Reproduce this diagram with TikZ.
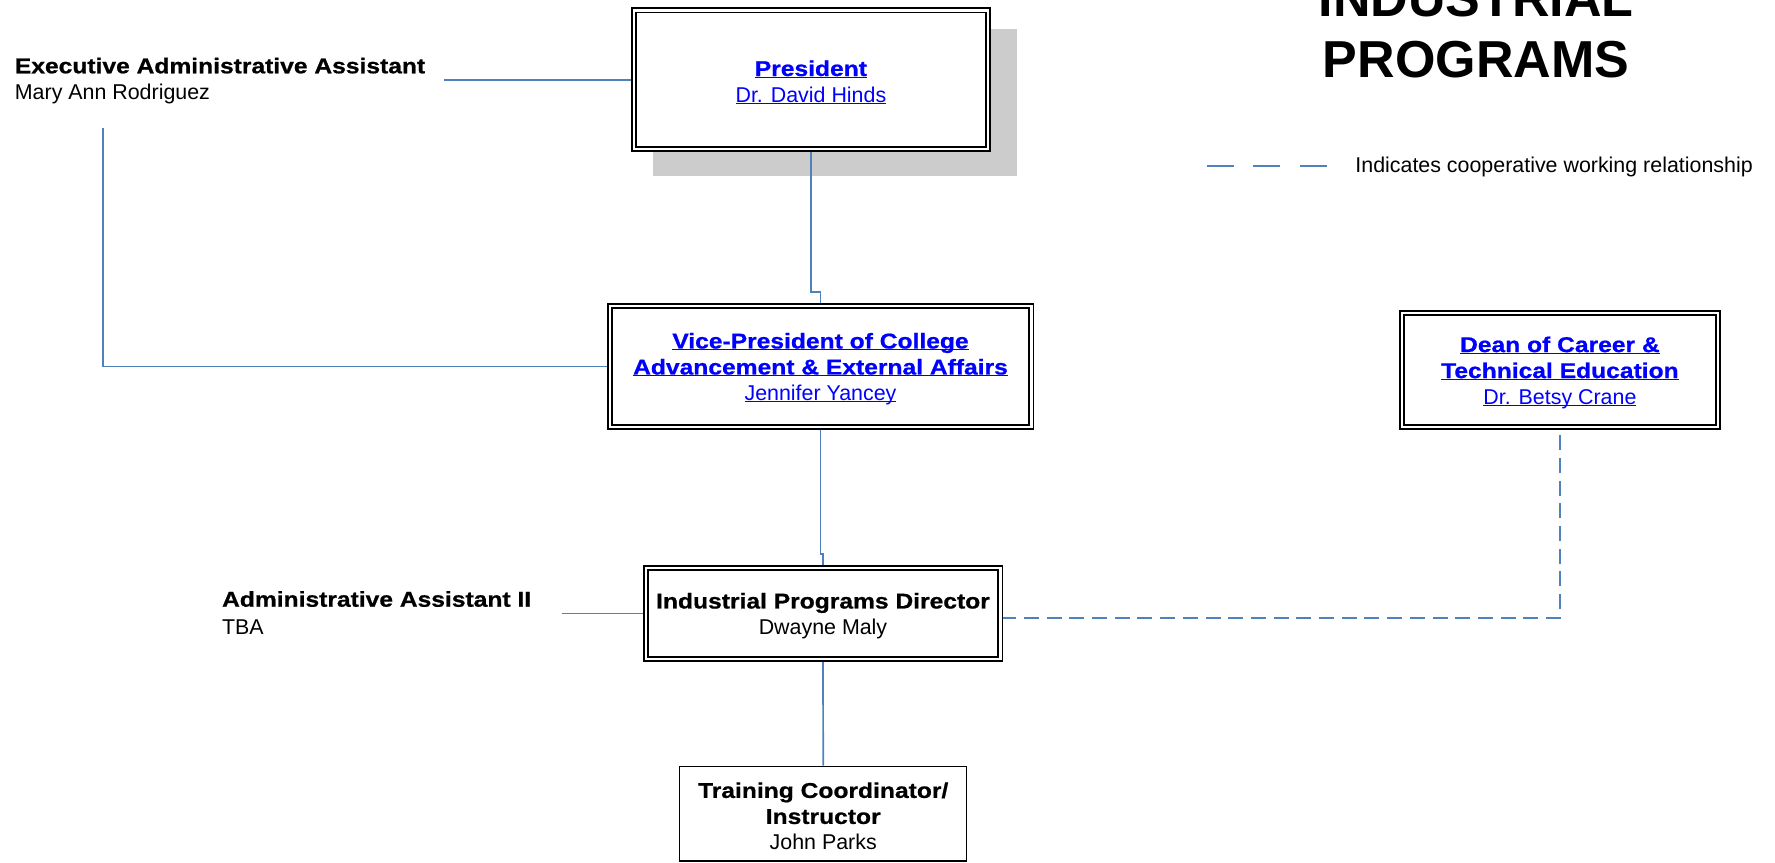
\documentclass[tikz,border=0pt]{standalone}
\usepackage{fontspec}
\setmainfont{Liberation Sans}
\newfontfamily\wbf[FakeStretch=1.15,FakeBold=0.8]{Liberation Sans}
\usetikzlibrary{backgrounds}
\definecolor{connblue}{HTML}{4F81BD}
\definecolor{linkblue}{RGB}{0,0,255}
\definecolor{shadowgray}{HTML}{CCCCCC}
\newlength\ulwd
\newcommand\ulk[1]{\settowidth\ulwd{#1}\makebox[0pt][l]{\rule[-1pt]{\ulwd}{0.6pt}}#1}
\newcommand\hb{\wbf\bfseries}
\newcommand\tstrut{\rule{0pt}{10.3pt}}
\tikzset{
  basefont/.style={font=\fontsize{10.7pt}{13pt}\selectfont},
  txt/.style={basefont, inner sep=0pt, anchor=base west},
  dbox/.style={basefont, draw=black, line width=0.9pt, double=white, double distance=1.2pt,
    fill=white, align=center, inner sep=0pt},
  sbox/.style={basefont, draw=black, line width=0.75pt, fill=white, align=center, inner sep=0pt},
  conn/.style={draw=connblue, line width=0.85pt},
  coop/.style={conn, dash pattern=on 7.5pt off 3.85pt},
  legdash/.style={conn, dash pattern=on 13.5pt off 9.75pt},
  titletxt/.style={font=\fontsize{26pt}{30pt}\selectfont\bfseries, inner sep=0pt, anchor=base}
}
\begin{document}
\begin{tikzpicture}[x=0.5pt,y=-0.5pt]
\useasboundingbox (0,0) rectangle (1775,862);

% title
\node[titletxt] (title1) at (1476,17) {INDUSTRIAL};
\node[titletxt] (title2) at (1476,77) {PROGRAMS};

% legend
\coordinate (legA) at (1206.7,165.7);
\coordinate (legB) at (1326.7,165.7);
\draw[legdash] (legA) -- (legB);
\node[txt] (legtxt) at (1355,172.3) {Indicates cooperative working relationship};

% boxes
\node[dbox, text=linkblue, minimum width=177.15pt, minimum height=69.35pt] (pres) at (810.9,79.7)
  {\tstrut{\hb\ulk{President}}\\\ulk{Dr. David Hinds}};
\node[dbox, text=linkblue, minimum width=210.8pt, minimum height=60.65pt] (vp) at (820.5,366.4)
  {\tstrut{\hb\ulk{Vice-President of College}}\\{\hb\ulk{Advancement \& External Affairs}}\\\ulk{Jennifer Yancey}};
\node[dbox, minimum width=177.3pt, minimum height=45.35pt] (dir) at (823,613.4)
  {\tstrut{\hb Industrial Programs Director}\\Dwayne Maly};
\node[dbox, text=linkblue, minimum width=157.85pt, minimum height=57pt] (dean) at (1559.9,370)
  {\tstrut{\hb\ulk{Dean of Career \&}}\\{\hb\ulk{Technical Education}}\\\ulk{Dr. Betsy Crane}};
\node[sbox, minimum width=143.5pt, minimum height=47.3pt] (train) at (823.2,813.7)
  {\tstrut{\hb Training Coordinator/}\\{\hb Instructor}\\John Parks};

% side labels
\node[txt] (exectitle) at (14.5,73.3) {\hb Executive Administrative Assistant};
\node[txt] (execname) at (14.5,99.3) {Mary Ann Rodriguez};
\node[txt] (admintitle) at (221.7,606.7) {\hb Administrative Assistant II};
\node[txt] (adminname) at (221.7,634) {TBA};

\coordinate (execR) at (444,79.7);
\coordinate (execB) at (103,128.3);
\coordinate (adminR) at (561.7,613.4);

\begin{scope}[on background layer]
  \fill[shadowgray] (653,29) rectangle (1017,176);
  \draw[conn] (pres.south) -- ++(0,142) -| (vp.north);
  \draw[conn] (vp.south) -- ++(0,126) -| (dir.north);
  \draw[conn] (dir.south) -- (train.north);
  \draw[conn] (execR) -- (pres.west);
  \draw[conn] (execB) |- (vp.west);
  \draw[conn] (adminR) -- (dir.west);
  \draw[coop, shorten >=3.5pt] ([yshift=-2.2pt]dir.east) -| (dean.south);
\end{scope}
\end{tikzpicture}
\end{document}
